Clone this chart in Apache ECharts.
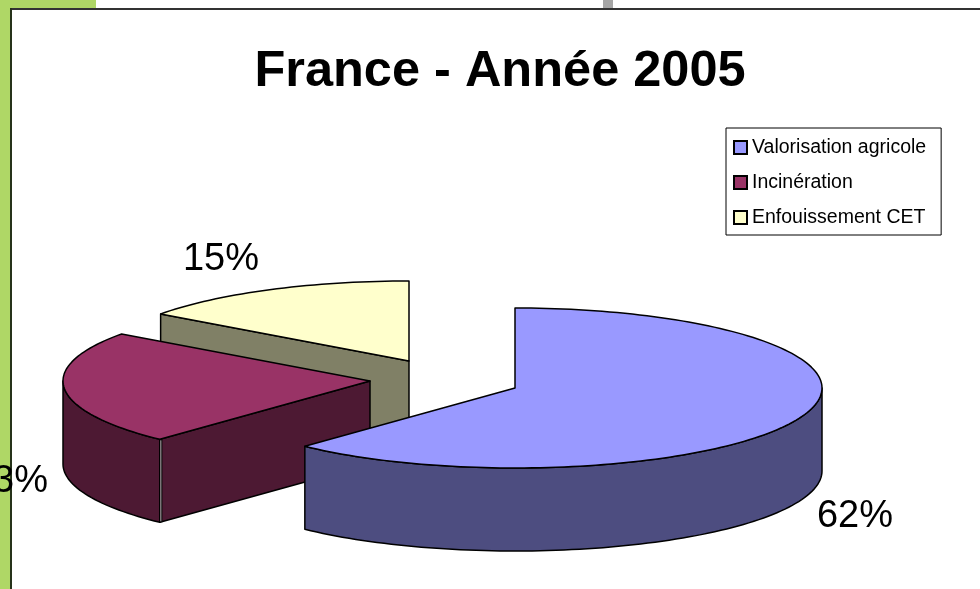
<!DOCTYPE html>
<html><head><meta charset="utf-8">
<style>html,body{margin:0;padding:0;background:#fff}#c{width:980px;height:589px}</style>
<script src="https://cdn.jsdelivr.net/npm/echarts@6/dist/echarts.min.js"></script>
</head><body><div id="c"></div>
<script>
const categories = ['Valorisation agricole', 'Incinération', 'Enfouissement CET'];
const values = [62, 23, 15];
const topColors = ['#9999FF', '#993366', '#FFFFCC'];
const sideColors = ['#4D4D80', '#4D1933', '#808066'];
const sliceCenters = [[515, 388], [370, 381], [409, 361]];
const labelPositions = [[855, 517], [10, 482], [221, 260]];
const radiusX = 307, radiusY = 80, depth = 83;
const total = values.reduce((a, b) => a + b, 0);
const FONT = '"Liberation Sans", Arial, sans-serif';

function pt(c, t, dy) {
  const r = t * Math.PI / 180;
  return [c[0] + radiusX * Math.sin(r), c[1] - radiusY * Math.cos(r) + (dy || 0)];
}
function arc(c, a, b, dy) {
  const pts = [], n = Math.max(2, Math.ceil(Math.abs(b - a) / 1.5));
  for (let i = 0; i <= n; i++) pts.push(pt(c, a + (b - a) * i / n, dy));
  return pts;
}
const stroke = { stroke: '#000', lineWidth: 1.5, lineJoin: 'round' };
function poly(points, fill) {
  return { type: 'polygon', shape: { points }, style: Object.assign({ fill }, stroke) };
}
function renderSlice(index) {
  return function (params, api) {
    const value = api.value(0);
    const before = values.slice(0, index).reduce((a, b) => a + b, 0);
    const s = before / total * 360, e = (before + value) / total * 360;
    const c = sliceCenters[index], side = sideColors[index];
    const children = [];
    const rs = s * Math.PI / 180, re = e * Math.PI / 180;
    const flat = (t) => {
      const p = pt(c, t);
      return poly([c, p, [p[0], p[1] + depth], [c[0], c[1] + depth]], side);
    };
    if (Math.sin(re) > 1e-6) children.push(flat(e));
    const startFace = Math.sin(rs) < -1e-6;
    if (startFace) children.push(flat(s));
    const a = Math.max(s, 90), b = Math.min(e, 270);
    if (b > a) children.push(poly(arc(c, a, b, 0).concat(arc(c, b, a, depth)), side));
    if (startFace && b > a) {
      const p = pt(c, s);
      children.push({ type: 'line', shape: { x1: p[0] + 1, y1: p[1], x2: p[0] + 1, y2: p[1] + depth },
        style: { stroke: '#000', lineWidth: 3 } });
      children.push({ type: 'line', shape: { x1: p[0] + 1, y1: p[1] + 1, x2: p[0] + 1, y2: p[1] + depth - 1 },
        style: { stroke: '#BDB4B8', lineWidth: 1 } });
    }
    children.push(poly([c].concat(arc(c, s, e, 0)), topColors[index]));
    const lp = labelPositions[index];
    children.push({ type: 'text', z2: 100, style: {
      x: lp[0], y: lp[1], text: value + '%', fill: '#000',
      font: '38px ' + FONT, textAlign: 'center', textVerticalAlign: 'middle' } });
    return { type: 'group', children };
  };
}
const order = [2, 1, 0];
const series = order.map(i => ({
  type: 'custom', name: categories[i], coordinateSystem: 'none', z: 2 + (2 - i),
  silent: true, animation: false, clip: false,
  itemStyle: { color: topColors[i], borderColor: '#000', borderWidth: 1.5 },
  data: [{ name: categories[i], value: [values[i]] }],
  renderItem: renderSlice(i)
}));
const chart = echarts.init(document.getElementById('c'), null, { renderer: 'canvas' });
chart.setOption({
  animation: false,
  backgroundColor: '#fff',
  graphic: { elements: [
    { type: 'rect', z: -1, shape: { x: 0, y: 0, width: 10, height: 589 }, style: { fill: '#AFD766' } },
    { type: 'rect', z: -1, shape: { x: 0, y: 0, width: 96, height: 8 }, style: { fill: '#AFD766' } },
    { type: 'rect', z: -1, shape: { x: 603, y: 0, width: 10, height: 8 }, style: { fill: '#A6A6A6' } },
    { type: 'rect', z: -1, shape: { x: 10, y: 8, width: 970, height: 2 }, style: { fill: '#333' } },
    { type: 'rect', z: -1, shape: { x: 10, y: 8, width: 2, height: 581 }, style: { fill: '#26331A' } }
  ] },
  title: { text: 'France - Année 2005', left: 500, top: 47, textAlign: 'center', padding: 0,
    textStyle: { fontFamily: FONT, fontWeight: 'bold', fontSize: 50.5, color: '#000' } },
  legend: {
    data: categories, orient: 'vertical', left: 726, top: 128, icon: 'rect',
    itemWidth: 13, itemHeight: 13, itemGap: 14, padding: [9, 15, 7, 7],
    backgroundColor: '#fff', borderColor: '#000', borderWidth: 1, borderRadius: 0,
    selectedMode: false, z: 10,
    textStyle: { fontFamily: FONT, fontSize: 19.5, color: '#000', padding: [0, 0, 0, 0], lineHeight: 21 }
  },
  series
});
</script></body></html>
